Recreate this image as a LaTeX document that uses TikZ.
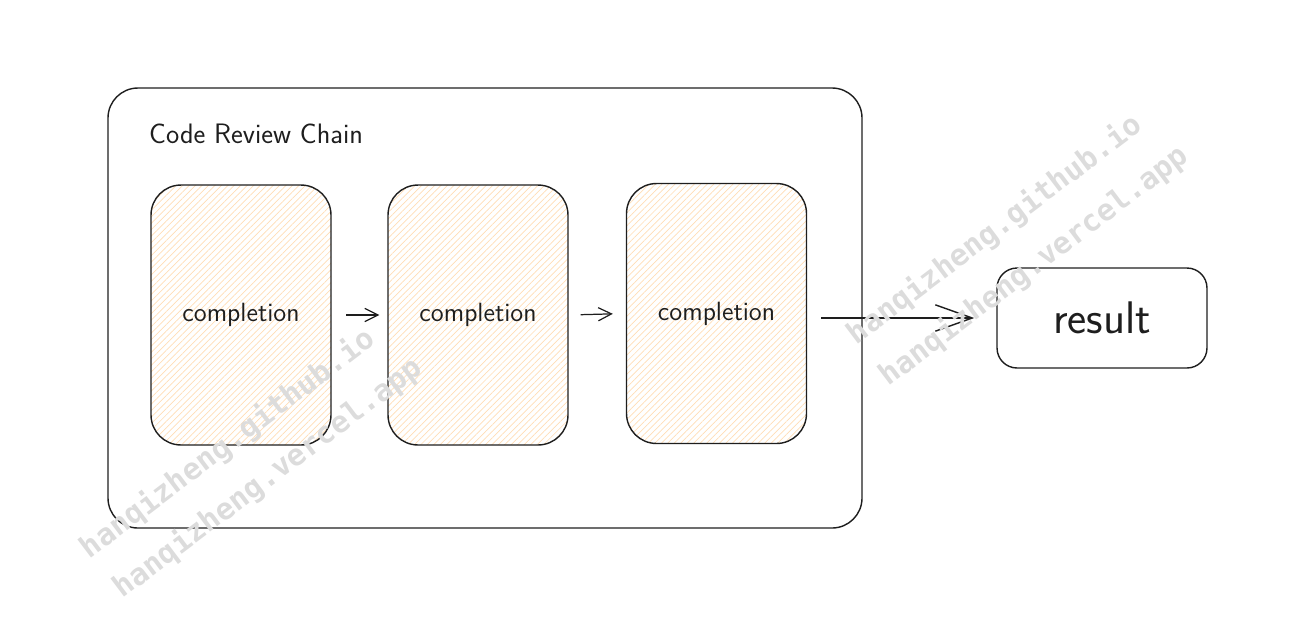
\documentclass[tikz,border=0pt]{standalone}
\usepackage{fontspec}
\newfontfamily\markfont{DejaVu Sans Mono}
\usetikzlibrary{positioning, arrows.meta, patterns.meta}
\definecolor{ink}{HTML}{1E1E1E}
\definecolor{hatch}{HTML}{FFDDB5}
\definecolor{wmgray}{HTML}{DCDCDC}

\tikzset{
    card/.style={
            draw=ink, line width=0.8pt, rounded corners=0.6cm,
            minimum width=3.6cm, minimum height=5.2cm,
            pattern={Lines[angle=45, distance=2.6pt, line width=0.4pt]},
            pattern color=hatch,
            text=ink, font=\sffamily\fontsize{15}{18}\selectfont
        },
    resbox/.style={
            draw=ink, line width=0.8pt, rounded corners=0.4cm,
            minimum width=4.2cm, minimum height=2cm,
            text=ink, font=\sffamily\fontsize{26}{30}\selectfont
        },
    link/.style={draw=ink, line width=0.7pt, -{Straight Barb[length=7.5pt, width=7.5pt]}},
    biglink/.style={draw=ink, line width=0.8pt, -{Straight Barb[length=21pt, width=15pt]}},
    watermark/.style={text=wmgray, rotate=37, font=\markfont\bfseries\fontsize{17}{20}\selectfont}
}

\begin{document}
\begin{tikzpicture}[x=0.02cm, y=-0.02cm]
            \useasboundingbox (0,0) rectangle (1310,620);

            % outer chain box
            \draw[ink, line width=0.8pt, rounded corners=0.6cm] (108,88) rectangle (862,528);
            \node[anchor=west, text=ink, font=\sffamily\fontsize{16}{19}\selectfont] (title) at (143,134) {Code Review Chain};

            % completion cards
            \foreach \n/\x/\y in {1/241/315, 2/478/315, 3/716.5/313.5}
                {
                    \node[card] (c\n) at (\x, \y) {completion};
                }

            % result
            \node[resbox] (result) at (1102,318) {result};

            % arrows
            \draw[link, shorten <=0.3cm, shorten >=0.16cm] (c1.east) -- (c2.west);
            \draw[link, shorten <=0.24cm, shorten >=0.26cm] (c2.east) -- (c3.west);
            \draw[biglink, shorten <=0.28cm, shorten >=0.44cm] (c3.east |- result.west) -- (result.west);

            % watermarks
            \node[watermark] (wm1) at (228,444) {hanqizheng.github.io};
            \node[watermark] (wm2) at (268,478) {hanqizheng.vercel.app};
            \node[watermark] (wm3) at (995,230) {hanqizheng.github.io};
            \node[watermark] (wm4) at (1034,266) {hanqizheng.vercel.app};

\end{tikzpicture}
\end{document}
